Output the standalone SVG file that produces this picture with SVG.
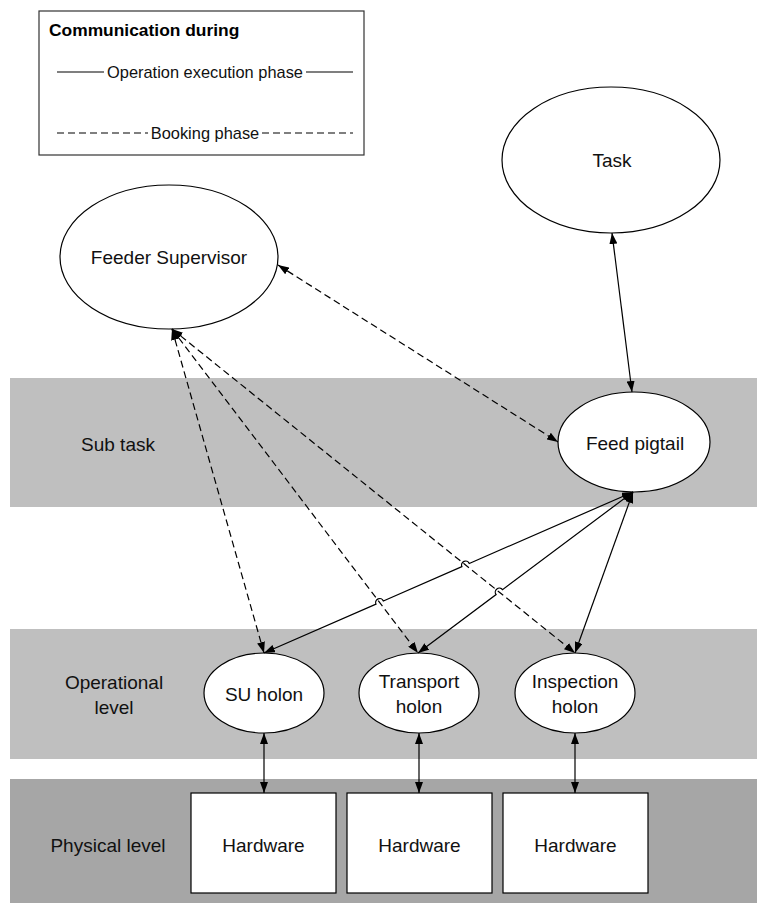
<svg xmlns="http://www.w3.org/2000/svg" width="757" height="903" viewBox="0 0 757 903">
  <defs>
    <marker id="arrow" viewBox="0 0 11 8" refX="11" refY="4" markerWidth="11" markerHeight="8" markerUnits="userSpaceOnUse" orient="auto-start-reverse">
      <path d="M0,0 L11,4 L0,8 Z" fill="#000"/>
    </marker>
    <style>
      .lbl{font-family:'Liberation Sans',Arial,sans-serif;font-size:19px;fill:#111;text-anchor:middle}
      .leg{font-family:'Liberation Sans',Arial,sans-serif;font-size:16.4px;fill:#111;text-anchor:middle}
      .title{font-family:'Liberation Sans',Arial,sans-serif;font-size:17.4px;font-weight:bold;fill:#000}
      .node{fill:#fff;stroke:#000;stroke-width:1.2}
      .conn{fill:none;stroke:#000;stroke-width:1.2;marker-start:url(#arrow);marker-end:url(#arrow)}
      .dash{stroke-dasharray:7 4}
      .rule{fill:none;stroke:#000;stroke-width:1.2}
      .band{fill:#bfbfbf}
      .band-dark{fill:#a6a6a6}
    </style>
  </defs>

  <rect x="0" y="0" width="757" height="903" fill="#fff"/>

  <!-- level bands -->
  <g id="bands">
    <rect class="band" x="10" y="378" width="747" height="129"/>
    <rect class="band" x="10" y="629" width="747" height="130"/>
    <rect class="band-dark" x="10" y="779" width="747" height="124"/>
    <text class="lbl" x="118" y="451">Sub task</text>
    <text class="lbl" x="114" y="689">Operational</text>
    <text class="lbl" x="114" y="714">level</text>
    <text class="lbl" x="108" y="852">Physical level</text>
  </g>

  <!-- legend -->
  <g id="legend">
    <rect x="39" y="11" width="325" height="144" fill="#fff" stroke="#333" stroke-width="1.2"/>
    <text class="title" x="49" y="36">Communication during</text>
    <line class="rule" x1="57" y1="72" x2="104" y2="72"/>
    <text class="leg" x="205" y="78">Operation execution phase</text>
    <line class="rule" x1="306" y1="72" x2="353" y2="72"/>
    <line class="rule dash" x1="57" y1="133" x2="148" y2="133"/>
    <text class="leg" x="205" y="139">Booking phase</text>
    <line class="rule dash" x1="262" y1="133" x2="353" y2="133"/>
  </g>

  <!-- nodes -->
  <g id="feeder-supervisor">
    <ellipse class="node" cx="169" cy="257" rx="109" ry="72"/>
    <text class="lbl" x="169" y="264">Feeder Supervisor</text>
  </g>
  <g id="task">
    <ellipse class="node" cx="611" cy="160" rx="109" ry="73"/>
    <text class="lbl" x="612" y="167">Task</text>
  </g>
  <g id="feed-pigtail">
    <ellipse class="node" cx="634" cy="442" rx="76" ry="50"/>
    <text class="lbl" x="635" y="450">Feed pigtail</text>
  </g>
  <g id="su-holon">
    <ellipse class="node" cx="264" cy="693" rx="60" ry="40"/>
    <text class="lbl" x="264" y="701">SU holon</text>
  </g>
  <g id="transport-holon">
    <ellipse class="node" cx="419" cy="693" rx="60" ry="40"/>
    <text class="lbl" x="419" y="688">Transport</text>
    <text class="lbl" x="419" y="713">holon</text>
  </g>
  <g id="inspection-holon">
    <ellipse class="node" cx="575" cy="693" rx="60" ry="40"/>
    <text class="lbl" x="575" y="688">Inspection</text>
    <text class="lbl" x="575" y="713">holon</text>
  </g>
  <g id="hardware-1">
    <rect class="node" x="191" y="793" width="145" height="100"/>
    <text class="lbl" x="263.5" y="852">Hardware</text>
  </g>
  <g id="hardware-2">
    <rect class="node" x="347" y="793" width="145" height="100"/>
    <text class="lbl" x="419.5" y="852">Hardware</text>
  </g>
  <g id="hardware-3">
    <rect class="node" x="503" y="793" width="145" height="100"/>
    <text class="lbl" x="575.5" y="852">Hardware</text>
  </g>

  <!-- connectors -->
  <g id="connectors">
    <!-- booking phase (dashed) -->
    <path class="conn dash" d="M278,265 L558,442"/>
    <path class="conn dash" d="M172,329 L264,653"/>
    <path class="conn dash" d="M172,329 L418,653"/>
    <path class="conn dash" d="M172,329 L575,653"/>
    <!-- operation execution phase (solid, hopping over dashed crossings) -->
    <path class="conn" d="M612,233 L632,392"/>
    <path class="conn" d="M264,653 L376.01,604.13 A4,4 0 0 1 383.35,600.93 L461.92,566.64 A4,4 0 0 1 469.26,563.44 L633,492"/>
    <path class="conn" d="M418,653 L496.09,594.53 A4,4 0 0 1 502.49,589.73 L633,492"/>
    <path class="conn" d="M575,653 L633,492"/>
    <path class="conn" d="M264,733 L264,793"/>
    <path class="conn" d="M419,733 L419,793"/>
    <path class="conn" d="M575,733 L575,793"/>
  </g>
</svg>
